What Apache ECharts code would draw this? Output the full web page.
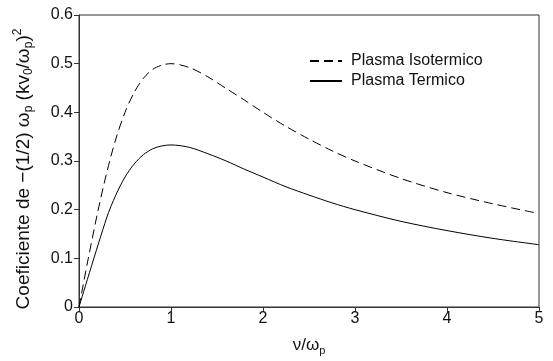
<!DOCTYPE html>
<html><head><meta charset="utf-8">
<script src="https://cdn.jsdelivr.net/npm/echarts@6/dist/echarts.min.js"></script>
<style>html,body{margin:0;padding:0;background:#fff}#c{width:553px;height:361px}</style>
</head><body><div id="c"></div>
<script>
var seriesNames = ['Plasma Isotermico', 'Plasma Termico'];
var isoX = [0, 0.1, 0.2, 0.3, 0.4, 0.5, 0.6, 0.7, 0.8, 0.9, 1.0, 1.2, 1.4, 1.6, 1.8, 2.0, 2.25, 2.5, 2.75, 3.0, 3.5, 4.0, 4.5, 5.0];
var isoY = [0, 0.099, 0.192, 0.275, 0.345, 0.400, 0.441, 0.470, 0.488, 0.497, 0.500, 0.492, 0.473, 0.449, 0.425, 0.400, 0.371, 0.345, 0.321, 0.300, 0.264, 0.235, 0.212, 0.192];
var terX = [0, 0.3, 0.4, 0.5, 0.6, 0.7, 0.8, 0.9, 1.0, 1.2, 1.4, 1.6, 1.8, 2.0, 2.25, 2.5, 2.75, 3.0, 3.5, 4.0, 4.5, 5.0];
var terY = [0, 0.183, 0.230, 0.267, 0.294, 0.313, 0.325, 0.331, 0.333, 0.328, 0.315, 0.300, 0.283, 0.267, 0.247, 0.230, 0.214, 0.200, 0.176, 0.157, 0.141, 0.128];
var xTicks = [0, 1, 2, 3, 4, 5];
var yTicks = [0, 0.1, 0.2, 0.3, 0.4, 0.5, 0.6];

function pairs(xs, ys) { return xs.map(function (x, i) { return [x, ys[i]]; }); }

var font = '"Liberation Sans", Arial, sans-serif';
var chart = echarts.init(document.getElementById('c'), null, {renderer: 'canvas'});
chart.setOption({
  animation: false,
  grid: {left: 79, right: 14, top: 15, bottom: 50, show: true, borderColor: '#333', borderWidth: 1},
  legend: {
    orient: 'vertical', left: 304, top: 48, itemWidth: 32, itemHeight: 10, itemGap: 4,
    itemStyle: {opacity: 0},
    textStyle: {fontFamily: font, fontSize: 16, color: '#111', padding: [0, 0, 0, 4]},
    data: seriesNames
  },
  xAxis: {
    type: 'value', min: 0, max: 5, interval: 1,
    name: '{m|ν/ω}{sub|p}', nameLocation: 'middle', nameGap: 28,
    nameTextStyle: {fontFamily: font, fontSize: 17, color: '#111',
      rich: {m: {fontFamily: font, fontSize: 17, color: '#111'}, sub: {fontFamily: font, fontSize: 11, color: '#111', padding: [10, 0, 0, 0]}}},
    axisLine: {lineStyle: {color: '#333', width: 1}},
    axisTick: {inside: false, length: 5, lineStyle: {color: '#333'}},
    axisLabel: {fontFamily: font, fontSize: 16, color: '#111', margin: 4,
      formatter: function (v) { return xTicks.indexOf(v) >= 0 ? String(v) : ''; }},
    splitLine: {show: false}
  },
  yAxis: {
    type: 'value', min: 0, max: 0.6, interval: 0.1,
    name: '{m|Coeficiente de −(1/2) ω}{sub|p}{m| (kv}{sub|0}{m|/ω}{sub|p}{m|)}{sup|2}',
    nameLocation: 'middle', nameRotate: 90, nameGap: 44,
    nameTextStyle: {fontFamily: font, fontSize: 19, color: '#111', padding: [0, 16, 0, 0],
      rich: {
        m: {fontFamily: font, fontSize: 19, color: '#111'},
        sub: {fontFamily: font, fontSize: 12, color: '#111', padding: [11, 0, 0, 0]},
        sup: {fontFamily: font, fontSize: 12, color: '#111', padding: [0, 0, 11, 0]}
      }},
    axisLine: {show: true, lineStyle: {color: '#333', width: 1}},
    axisTick: {show: true, inside: false, length: 5, lineStyle: {color: '#333'}},
    axisLabel: {fontFamily: font, fontSize: 16, color: '#111', margin: 6,
      formatter: function (v) { var t = yTicks.filter(function (q) { return Math.abs(q - v) < 1e-9; }); return t.length ? (v === 0 ? '0' : v.toFixed(1)) : ''; }},
    splitLine: {show: false}
  },
  series: [
    {name: seriesNames[0], type: 'line', smooth: 0.3, symbol: 'none', data: pairs(isoX, isoY),
      lineStyle: {color: '#000', width: 1, type: [9, 5]}, itemStyle: {color: '#000'}},
    {name: seriesNames[1], type: 'line', smooth: 0.3, symbol: 'none', data: pairs(terX, terY),
      lineStyle: {color: '#000', width: 1, type: 'solid'}, itemStyle: {color: '#000'}}
  ]
});
</script></body></html>
